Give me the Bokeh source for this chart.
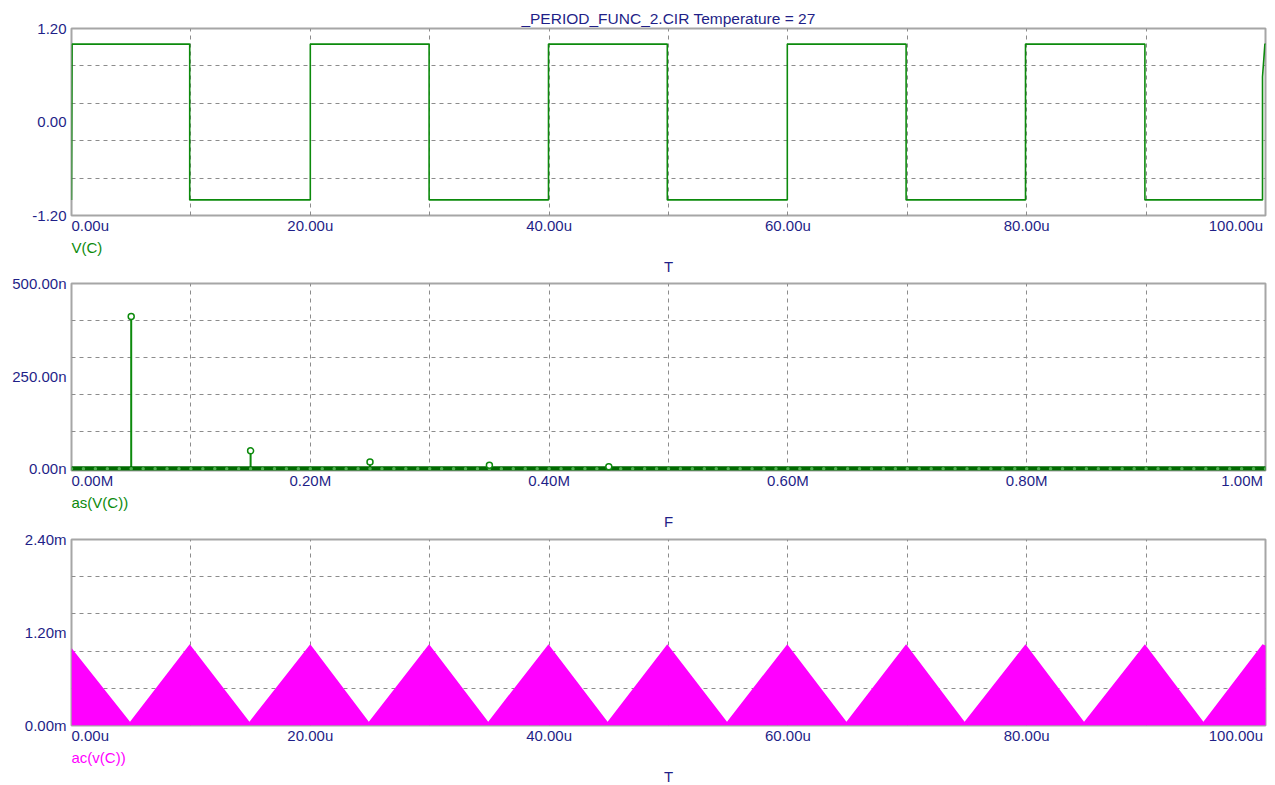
from bokeh.plotting import figure
from bokeh.layouts import column
from bokeh.models import (Range1d, FixedTicker, Grid, PrintfTickFormatter,
                          CustomJSTickFormatter, Title)
from bokeh.embed import file_html
from bokeh.resources import INLINE
import numpy as np

TITLE = "_PERIOD_FUNC_2.CIR Temperature = 27"

# ---------------- Panel 1 : V(C) vs T (time in µs, volts) ----------------
sq_time_us = [0.0, 0.05, 9.9, 9.9, 20.0, 20.0, 29.95, 29.95, 39.95, 39.95,
              49.9, 49.9, 59.95, 59.95, 69.9, 69.9, 79.9, 79.9, 89.9, 89.9,
              99.75, 99.75, 99.95, 100.3]
sq_volts = [-1.0, 1.0, 1.0, -1.0, -1.0, 1.0, 1.0, -1.0, -1.0, 1.0,
            1.0, -1.0, -1.0, 1.0, 1.0, -1.0, -1.0, 1.0, 1.0, -1.0,
            -1.0, 0.58, 1.0, 1.0]
time_ticks_us = [0, 20, 40, 60, 80, 100]
time_tick_labels = ["0.00u", "20.00u", "40.00u", "60.00u", "80.00u", "100.00u"]
time_grid_us = [10, 20, 30, 40, 50, 60, 70, 80, 90]
volt_ticks = [-1.2, 0.0, 1.2]
volt_grid = [-0.72, -0.24, 0.24, 0.72]

# ---------------- Panel 2 : as(V(C)) vs F (freq in MHz, amplitude in n) ----------------
harm_freq_M = [0.05, 0.15, 0.25, 0.35, 0.45]
harm_amp_n = [411, 48, 18, 9, 5]
bin_freq_M = list(np.round(np.arange(0, 103) * 0.01, 2))   # 10 kHz spectrum bins
bin_amp_n = [0.0] * len(bin_freq_M)
freq_ticks_M = [0.0, 0.2, 0.4, 0.6, 0.8, 1.0]
freq_tick_labels = ["0.00M", "0.20M", "0.40M", "0.60M", "0.80M", "1.00M"]
freq_grid_M = [0.1, 0.2, 0.3, 0.4, 0.5, 0.6, 0.7, 0.8, 0.9]
amp_ticks_n = [0, 250, 500]
amp_grid_n = [100, 200, 300, 400]

# ---------------- Panel 3 : ac(v(C)) vs T (time in µs, mV) ----------------
tri_time_us = [0.0, 4.9, 9.9, 14.9, 20.0, 24.9, 29.95, 34.9, 39.95, 44.9,
               49.9, 54.9, 59.95, 64.9, 69.9, 74.8, 79.9, 84.8, 89.9, 94.8,
               99.75, 100.4]
tri_mv = [1.0, 0.05, 1.05, 0.05, 1.05, 0.05, 1.05, 0.05, 1.05, 0.05,
          1.05, 0.05, 1.05, 0.05, 1.05, 0.05, 1.05, 0.05, 1.05, 0.05,
          1.05, 1.0]
mv_ticks = [0.0, 1.2, 2.4]
mv_grid = [0.48, 0.96, 1.44, 1.92]

# ---------------- styling ----------------
FONT = "Liberation Sans"
FSIZE = "15px"
NAVY = "#1f1f88"
GREEN = "#0c8a0c"
DKGREEN = "#006a00"
MAGENTA = "#ff00ff"
GRIDC = "#8c8c8c"
FRAMEC = "#a6a6a6"
W = 1275
NBSP = "\u00a0"


def edge_aligned(labels, pad_first, pad_last):
    # first label starts at its tick, last label ends near the frame's right edge
    out = list(labels)
    out[0] = NBSP * pad_first + out[0]
    out[-1] = out[-1] + NBSP * pad_last
    return out


def make_panel(height, top, bottom, xr, yr, yticks, yfmt, xticks, xlabels, xgrid, ygrid):
    p = figure(width=W, height=height, output_backend="svg", toolbar_location=None,
               x_range=Range1d(*xr), y_range=Range1d(*yr),
               min_border_left=71, min_border_right=10,
               min_border_top=top, min_border_bottom=bottom)
    p.background_fill_color = "white"
    p.border_fill_color = "white"
    p.outline_line_color = FRAMEC
    p.outline_line_width = 2
    for ax in (p.yaxis[0], p.xaxis[0]):
        ax.axis_line_color = None
        ax.major_tick_line_color = None
        ax.minor_tick_line_color = None
        ax.major_tick_out = 0
        ax.major_tick_in = 0
        ax.major_label_text_font = FONT
        ax.major_label_text_font_size = FSIZE
        ax.major_label_text_color = NAVY
    ya = p.yaxis[0]
    ya.ticker = FixedTicker(ticks=yticks)
    ya.formatter = PrintfTickFormatter(format=yfmt)
    ya.major_label_standoff = 5
    xa = p.xaxis[0]
    xa.ticker = FixedTicker(ticks=xticks)
    xa.formatter = CustomJSTickFormatter(args=dict(labels=xlabels),
                                         code="return labels[index];")
    xa.major_label_standoff = 1
    p.xgrid.visible = False
    p.ygrid.ticker = FixedTicker(ticks=ygrid)
    p.ygrid.grid_line_color = GRIDC
    p.ygrid.grid_line_dash = "4 4"
    g = Grid(dimension=0, ticker=FixedTicker(ticks=xgrid),
             grid_line_color=GRIDC, grid_line_dash="4 4")
    p.add_layout(g)
    return p


def add_below_titles(p, series, series_color, axis_title):
    p.add_layout(Title(text=series, align="left", text_font=FONT, text_font_size=FSIZE,
                       text_font_style="normal", text_color=series_color,
                       standoff=0, offset=0), "below")
    p.add_layout(Title(text=axis_title, align="center", text_font=FONT,
                       text_font_size=FSIZE, text_font_style="normal",
                       text_color=NAVY, standoff=0), "below")


time_lbls = edge_aligned(time_tick_labels, 9, 3)
freq_lbls = edge_aligned(freq_tick_labels, 10, 3)

# Panel 1
p1 = make_panel(274, 28, 59, (0, 100), (-1.2, 1.2), volt_ticks, "%.2f",
                time_ticks_us, time_lbls, time_grid_us, volt_grid)
p1.line(sq_time_us, sq_volts, line_color=GREEN, line_width=1.6)
p1.title.text = TITLE
p1.title.align = "center"
p1.title.offset = -3
p1.title.standoff = 4
p1.title.text_font = FONT
p1.title.text_font_size = "15.5px"
p1.title.text_font_style = "normal"
p1.title.text_color = NAVY
add_below_titles(p1, "V(C)", GREEN, "T")

# Panel 2
p2 = make_panel(255, 9, 59, (0, 1.0), (-5, 500), amp_ticks_n, "%.2fn",
                freq_ticks_M, freq_lbls, freq_grid_M, amp_grid_n)
p2.segment(x0=harm_freq_M, y0=[0] * len(harm_freq_M), x1=harm_freq_M, y1=harm_amp_n,
           line_color=GREEN, line_width=2)
p2.line(bin_freq_M, bin_amp_n, line_color=DKGREEN, line_width=5)
p2.scatter(bin_freq_M, bin_amp_n, size=3.5, fill_color="#4fb04f", line_color=None)
p2.scatter(harm_freq_M, harm_amp_n, size=6, fill_color="white", line_color=GREEN,
           line_width=1.5)
add_below_titles(p2, "as(V(C))", GREEN, "F")

# Panel 3
p3 = make_panel(256, 10, 60, (0, 100), (0, 2.4), mv_ticks, "%.2fm",
                time_ticks_us, time_lbls, time_grid_us, mv_grid)
p3.varea(x=tri_time_us, y1=[0] * len(tri_time_us), y2=tri_mv, fill_color=MAGENTA)
add_below_titles(p3, "ac(v(C))", MAGENTA, "T")

layout = column(p1, p2, p3, spacing=0)
open("out.html", "w").write(file_html(layout, INLINE))
